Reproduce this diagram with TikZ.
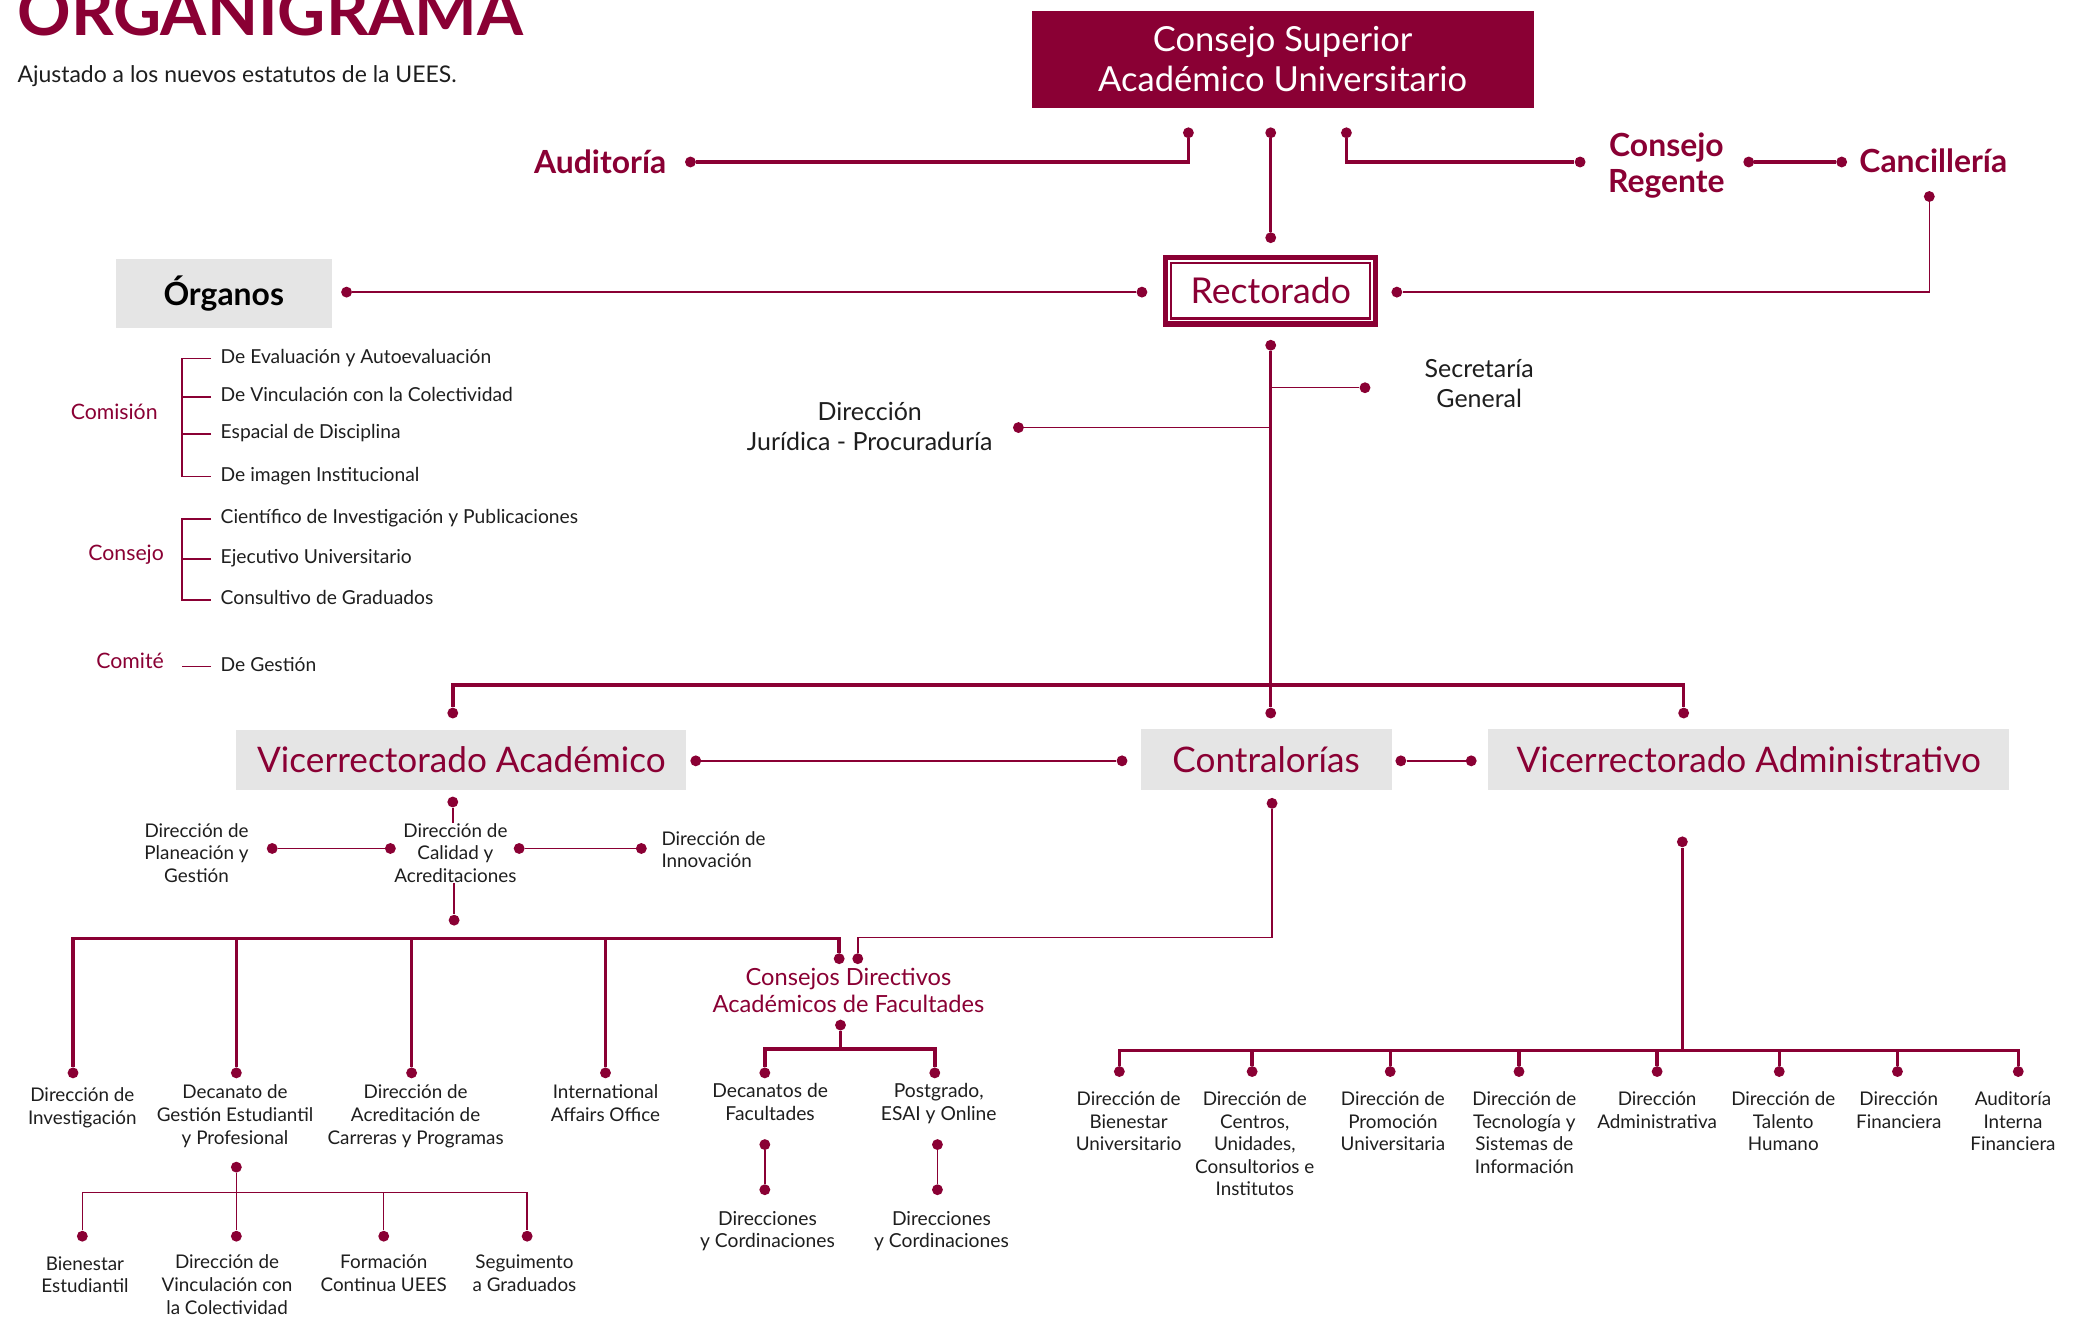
\documentclass[tikz,border=0pt]{standalone}
\usepackage{fontspec}
\setmainfont{Lato}
\usetikzlibrary{positioning}

\definecolor{uees}{HTML}{8A0034}
\definecolor{boxgray}{HTML}{E5E5E5}
\definecolor{ink}{HTML}{1E1E1E}

\tikzset{
  beadstyle/.style={circle, fill=uees, inner sep=0pt, minimum size=8.2pt},
  heavy/.style={draw=uees, line width=2.6pt},
  light/.style={draw=uees, line width=1.1pt},
  graybox/.style={fill=boxgray, inner sep=0pt, text=uees, font=\fontsize{26.5}{30}\selectfont},
  smalltxt/.style={inner sep=0pt, align=center, text=ink, font=\fontsize{14.2}{17}\selectfont},
  widetxt/.style={inner sep=0pt, align=center, text=ink, font=\fontsize{14.5}{17}\selectfont},
  listtxt/.style={inner sep=0pt, anchor=west, text=ink, text height=10pt, text depth=3pt, font=\fontsize{14.5}{17}\selectfont},
  grouptxt/.style={inner sep=0pt, text=uees, font=\fontsize{16}{18}\selectfont},
  boldtxt/.style={inner sep=0pt, align=center, text=uees, font=\bfseries\fontsize{24}{27}\selectfont},
  midtxt/.style={inner sep=0pt, align=center, text=ink, font=\fontsize{18.8}{22.5}\selectfont},
}

\NewDocumentCommand{\bead}{mm}{\node[beadstyle] (#1) at (#2) {};}

\begin{document}
\begin{tikzpicture}[x=1pt, y=-1pt]
        \clip (0,0) rectangle (1568,993);
        \fill[white] (0,0) rectangle (1568,993);

        % Header.
        \node[anchor=base west, inner sep=0pt, text=uees, font=\bfseries\fontsize{50}{50}\selectfont] (title) at (13,26.5) {ORGANIGRAMA};
        \node[anchor=base west, inner sep=0pt, text=ink, font=\fontsize{17.3}{20}\selectfont] (subtitle) at (13,62) {Ajustado a los nuevos estatutos de la UEES.};

        % Consejo Superior.
        \node[fill=uees, text=white, minimum width=378pt, minimum height=73pt, inner sep=0pt, align=center, font=\fontsize{26}{30}\selectfont] (csau) at (966,44.5) {Consejo Superior\\Académico Universitario};
        \bead{csL}{895,100}
        \bead{csM}{957,100}
        \bead{csR}{1014,100}

        % Auditoria, Consejo Regente, Cancilleria.
        \bead{audR}{520,122}
        \node[boldtxt] (aud) at (452,122) {Auditoría};
        \bead{regL}{1190,122}
        \node[boldtxt] (reg) at (1255,125) {Consejo\\Regente};
        \bead{regR}{1317,122}
        \bead{canL}{1387,122}
        \node[boldtxt] (can) at (1456,121) {Cancillería};
        \bead{canB}{1453,148}
        \draw[heavy] (csL) |- (audR);
        \draw[heavy] (csR) |- (regL);
        \draw[heavy] (regR) -- (canL);

        % Rectorado.
        \node[draw=uees, line width=7pt, minimum width=155pt, minimum height=47pt, inner sep=0pt, text=uees, font=\fontsize{26.8}{30}\selectfont] (rect) at (957,219) {Rectorado};
        \draw[white, line width=1.2pt] ([shift={(4.6,4.6)}]rect.north west) rectangle ([shift={(-4.6,-4.6)}]rect.south east);
        \bead{rectT}{957,179}
        \bead{rectL}{860,220}
        \bead{rectR}{1052,220}
        \bead{rectB}{957,260}
        \draw[heavy] (csM) -- (rectT);
        \draw[light] (canB) |- (rectR);

        % Organos.
        \node[fill=boxgray, minimum width=163pt, minimum height=52pt, inner sep=0pt, text=black, font=\bfseries\fontsize{24}{27}\selectfont] (org) at (168.5,221) {Órganos};
        \bead{orgR}{261,220}
        \draw[light] (orgR) -- (rectL);

        \node[grouptxt] (comision) at (86,310) {Comisión};
        \node[listtxt] (ev) at (166,270) {De Evaluación y Autoevaluación};
        \node[listtxt] (vi) at (166,299) {De Vinculación con la Colectividad};
        \node[listtxt] (es) at (166,327) {Espacial de Disciplina};
        \node[listtxt] (im) at (166,359) {De imagen Institucional};
        \draw[light] ([xshift=-7pt]ev.west) -| ([xshift=-29pt]im.west) -- ([xshift=-7pt]im.west);
        \foreach \n in {vi,es} \draw[light] ([xshift=-7pt]\n.west) -- ([xshift=-29pt]\n.west);

        \node[grouptxt] (consejo) at (95,418) {Consejo};
        \node[listtxt] (ci) at (166,391) {Científico de Investigación y Publicaciones};
        \node[listtxt] (ej) at (166,421) {Ejecutivo Universitario};
        \node[listtxt] (cg) at (166,452) {Consultivo de Graduados};
        \draw[light] ([xshift=-7pt]ci.west) -| ([xshift=-29pt]cg.west) -- ([xshift=-7pt]cg.west);
        \draw[light] ([xshift=-7pt]ej.west) -- ([xshift=-29pt]ej.west);

        \node[grouptxt] (comite) at (98,498) {Comité};
        \node[listtxt] (ge) at (166,502) {De Gestión};
        \draw[light] ([xshift=-7pt]ge.west) -- ([xshift=-29pt]ge.west);

        % Secretaria y Juridica.
        \bead{sec}{1028,292}
        \node[midtxt] (secg) at (1114,289) {Secretaría\\General};
        \bead{jur}{767,322}
        \node[midtxt] (jurp) at (655,321) {Dirección\\Jurídica - Procuraduría};

        % Vicerrectorados y Contralorias.
        \node[graybox, minimum width=339pt, minimum height=45pt] (va) at (347.5,572.5) {Vicerrectorado Académico};
        \node[graybox, minimum width=189pt, minimum height=46pt] (ctl) at (953.5,572) {Contralorías};
        \node[graybox, minimum width=392pt, minimum height=46pt] (vad) at (1317,572) {Vicerrectorado Administrativo};
        \bead{vaT}{341,537}
        \bead{ctT}{957,537}
        \bead{vadT}{1268,537}
        \coordinate (barT) at (957,516);
        \draw[heavy] (rectB) -- (ctT);
        \draw[light] (rectB |- sec) -- (sec);
        \draw[light] (rectB |- jur) -- (jur);
        \draw[heavy] (vaT) |- (barT) -| (vadT);

        \bead{vaR}{524,573}
        \bead{ctL}{845,573}
        \bead{ctR}{1055,573}
        \bead{vadL}{1108,573}
        \draw[light] (vaR) -- (ctL);
        \draw[light] (ctR) -- (vadL);

        % Calidad.
        \bead{vaB}{341,604}
        \node[smalltxt, anchor=north] (cal) at (343,620) {Dirección de\\Calidad y\\Acreditaciones};
        \node[smalltxt, anchor=north] (plan) at (148,620) {Dirección de\\Planeación y\\Gestión};
        \node[smalltxt, align=left, anchor=north west] (inn) at (498,626) {Dirección de\\Innovación};
        \bead{calL}{294,639}
        \bead{planR}{205,639}
        \bead{calR}{391,639}
        \bead{innL}{483,639}
        \bead{calB}{342,693}
        \draw[light] (vaB) -- (vaB |- cal.north);
        \draw[light] (calB |- cal.south) -- (calB);
        \draw[light] (planR) -- (calL);
        \draw[light] (calR) -- (innL);

        % Ramas academicas.
        \coordinate (barA) at (342,707);
        \bead{dinv}{55,808}
        \bead{ddec}{178,808}
        \bead{dacr}{310,808}
        \bead{dint}{456,808}
        \bead{cdL}{632,722}
        \bead{cdR}{646,722}
        \draw[heavy] (dinv) |- (barA) -| (cdL);
        \foreach \n in {ddec,dacr,dint} \draw[heavy] (\n) -- (\n |- barA);
        \coordinate (barB) at (800,706);
        \bead{ctB}{958,605}
        \draw[light] (ctB) |- (barB) -| (cdR);

        \node[smalltxt, anchor=north] (inv) at (62,819) {Dirección de\\Investigación};
        \node[smalltxt, anchor=north] (dec) at (177,817) {Decanato de\\Gestión Estudiantil\\y Profesional};
        \node[smalltxt, anchor=north] (acr) at (313,817) {Dirección de\\Acreditación de\\Carreras y Programas};
        \node[smalltxt, anchor=north] (intl) at (456,817) {International\\Affairs Office};

        % Consejos Directivos.
        \node[inner sep=0pt, align=center, text=uees, anchor=north, font=\fontsize{17.8}{20}\selectfont] (cd) at (639,729) {Consejos Directivos\\Académicos de Facultades};
        \bead{cdB}{633,772}
        \bead{ddf}{576,808}
        \bead{dpos}{704,808}
        \coordinate (barC) at (640,790);
        \draw[heavy] (ddf) |- (barC) -| (dpos);
        \draw[heavy] (cdB) -- (cdB |- barC);
        \node[widetxt, anchor=north] (decf) at (580,816) {Decanatos de\\Facultades};
        \node[widetxt, anchor=north] (pos) at (707,816) {Postgrado,\\ESAI y Online};
        \bead{decfB}{576,862}
        \bead{dir1T}{576,896}
        \bead{posB}{706,862}
        \bead{dir2T}{706,896}
        \draw[light] (decfB) -- (dir1T);
        \draw[light] (posB) -- (dir2T);
        \node[widetxt, anchor=north] (dir1) at (578,912) {Direcciones\\y Cordinaciones};
        \node[widetxt, anchor=north] (dir2) at (709,912) {Direcciones\\y Cordinaciones};

        % Decanato de Gestion.
        \bead{decB}{178,879}
        \coordinate (barD) at (230,898);
        \bead{dbien}{62,931}
        \bead{dvin}{178,931}
        \bead{dform}{289,931}
        \bead{dseg}{397,931}
        \draw[light] (dbien) |- (barD) -| (dseg);
        \draw[light] (decB) -- (dvin);
        \draw[light] (dform) -- (dform |- barD);
        \node[smalltxt, anchor=north] (bien) at (64,946) {Bienestar\\Estudiantil};
        \node[smalltxt, anchor=north] (vin) at (171,945) {Dirección de\\Vinculación con\\la Colectividad};
        \node[smalltxt, anchor=north] (form) at (289,945) {Formación\\Continua UEES};
        \node[smalltxt, anchor=north] (seg) at (395,945) {Seguimento\\a Graduados};

        % Vicerrectorado Administrativo.
        \bead{vadB}{1267,634}
        \coordinate (barE) at (1267,791);
        \draw[heavy] (vadB) -- (barE);
        \foreach \i/\bx/\x/\t in {1/843/850/{Dirección de\\Bienestar\\Universitario},
                2/943/945/{Dirección de\\Centros,\\Unidades,\\Consultorios e\\Institutos},
                3/1047/1049/{Dirección de\\Promoción\\Universitaria},
                4/1144/1148/{Dirección de\\Tecnología y\\Sistemas de\\Información},
                5/1248/1248/{Dirección\\Administrativa},
                6/1340/1343/{Dirección de\\Talento\\Humano},
                7/1429/1430/{Dirección\\Financiera},
                8/1520/1516/{Auditoría\\Interna\\Financiera}}{
            \bead{dadm\i}{\bx,807}
            \node[smalltxt, anchor=north] (adm\i) at (\x,822) {\t};
        }
        \draw[heavy] (dadm1) |- (barE) -| (dadm8);
        \foreach \i in {2,...,7} \draw[heavy] (dadm\i) -- (dadm\i |- barE);
\end{tikzpicture}
\end{document}
